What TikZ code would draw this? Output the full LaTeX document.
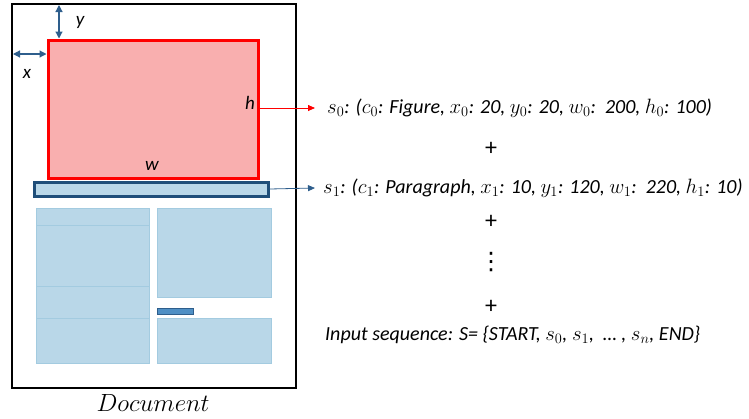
\documentclass[tikz,border=0pt]{standalone}
\usepackage{fontspec}
\setmainfont{Carlito}
\newfontfamily\djv{DejaVu Sans}
\usetikzlibrary{arrows.meta}
\definecolor{docblue}{HTML}{2E5E8C}
\definecolor{pblue}{HTML}{1F4E79}
\definecolor{lblue}{HTML}{B9D7E8}
\definecolor{lbord}{HTML}{A3CBE0}
\definecolor{mblue}{HTML}{4F8FC4}
\definecolor{pinkf}{HTML}{F9AFAF}
\tikzset{
  blk/.style={fill=lblue, draw=lbord, line width=0.8pt},
  dimarrow/.style={draw=docblue, line width=1.2pt, {Triangle[length=7pt,width=7pt]}-{Triangle[length=7pt,width=7pt]}},
  lbl/.style={font=\fontsize{19}{22}\selectfont\itshape, inner sep=0pt},
  seq/.style={font=\fontsize{20}{22}\selectfont\itshape, inner sep=0pt, anchor=west},
  plus/.style={font=\fontsize{24}{26}\selectfont, inner sep=0pt}
}
\begin{document}
\begin{tikzpicture}[x=1pt,y=-1pt]
\useasboundingbox (0,0) rectangle (749,418);
% document frame
\draw[line width=2pt] (12,4) rectangle (296,388);
% figure
\node[draw=red, fill=pinkf, line width=3pt, minimum width=210pt, minimum height=138pt, inner sep=0pt] (fig) at (153,109) {};
% paragraph
\node[draw=pblue, fill=lblue, line width=3pt, minimum width=234pt, minimum height=14pt, inner sep=0pt] (par) at (151,189) {};
% blocks
\draw[blk] (36,208) rectangle (149,225);
\draw[blk] (36,225) rectangle (149,286);
\draw[blk] (36,286) rectangle (149,318);
\draw[blk] (36,318) rectangle (149,363);
\draw[blk] (157,208) rectangle (271,297);
\draw[fill=mblue, draw=docblue, line width=0.8pt] (157,308) rectangle (193,314);
\draw[blk] (157,318) rectangle (271,363);
% dimension arrows
\coordinate (ytop) at (59,5);
\coordinate (xleft) at (13,54);
\draw[dimarrow] (ytop) -- (fig.north west -| ytop);
\draw[dimarrow] (xleft) -- (fig.west |- xleft);
\node[lbl] (ylab) at (80,22) {y};
\node[lbl] (xlab) at (27,74) {x};
\node[lbl] (hlab) at (250,103) {h};
\node[lbl] (wlab) at (152,166) {w};
% sequence text
\node[seq] (s0) at (327,108) {$s_0$: ($c_0$: Figure, $x_0$: 20, $y_0$: 20, $w_0$:\ \ 200, $h_0$: 100)};
\node[seq] (s1) at (323,188) {$s_1$: ($c_1$: Paragraph, $x_1$: 10, $y_1$: 120, $w_1$:\ \ 220, $h_1$: 10)};
\node[plus] (p1) at (491,149) {+};
\node[plus] (p2) at (491,222) {+};
\node[plus] (p3) at (491,307) {+};
\node[font=\fontsize{24}{26}\selectfont\djv, inner sep=0pt] (dots) at (491,262) {⋮};
\node[seq] (inp) at (325,335) {Input sequence: S= \{START, $s_0$, $s_1$,\ \ \ldots\ , $s_n$, END\}};
% connectors
\draw[red, line width=0.8pt, -{Triangle[length=7pt,width=6pt]}] (fig.east |- s0.west) -- ([xshift=-12pt]s0.west);
\draw[docblue, line width=0.8pt, -{Triangle[length=7pt,width=6pt]}] (par.east) -- ([xshift=-8pt]s1.west);
% caption
\node[font=\fontsize{25}{28}\selectfont, inner sep=0pt] (doc) at (153,403) {$Document$};
\end{tikzpicture}
\end{document}
